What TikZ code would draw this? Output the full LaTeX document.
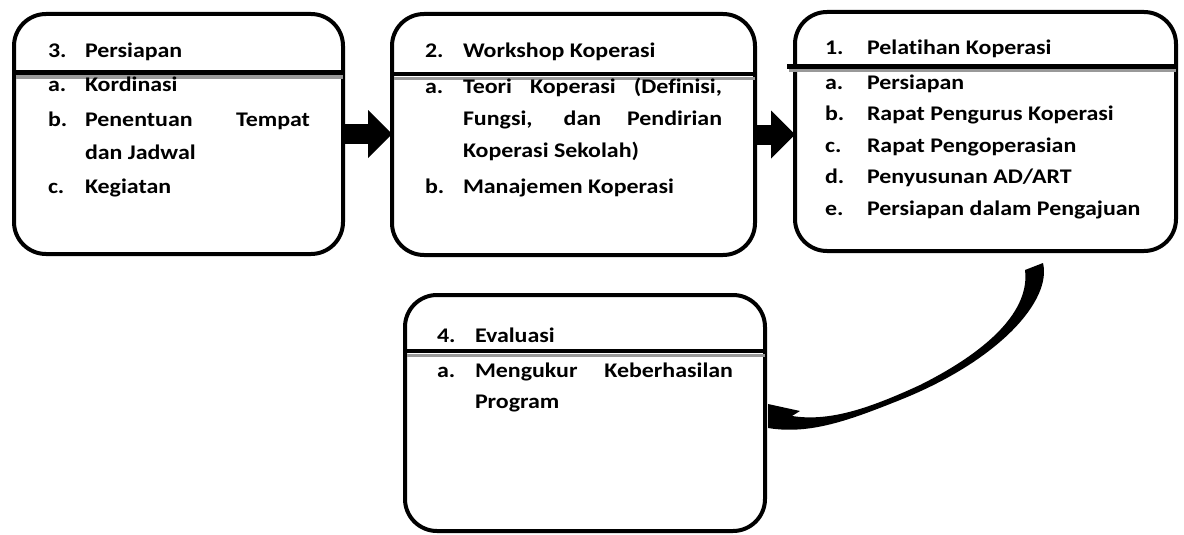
\documentclass[tikz,border=0pt]{standalone}
\usepackage{fontspec}
\newfontfamily\cfont{Carlito}[FakeStretch=1.15,Ligatures={NoCommon}]
\usetikzlibrary{arrows.meta}
\begin{document}
\begin{tikzpicture}[x=1pt,y=-1pt,
  box/.style={draw, line width=4pt, rounded corners=32pt, inner sep=0pt, outer sep=0pt, rectangle},
  hdr/.style={line width=4.5pt},
  shd/.style={line width=3.5pt, draw=black!40},
  txt/.style={anchor=base west, inner sep=0pt, outer sep=0pt, font=\cfont\bfseries\fontsize{20.8}{24}\selectfont},
  blk/.style={line width=20pt, -{Triangle[width=48pt,length=24pt,line width=0pt]}}]
\useasboundingbox (0,0) rectangle (1184,535);

% boxes
\node[box, minimum width=329pt, minimum height=240pt] (A) at (178.5,134) {};
\node[box, minimum width=363pt, minimum height=241pt] (B) at (573.5,134.5) {};
\node[box, minimum width=381pt, minimum height=239pt] (C) at (985.5,131.5) {};
\node[box, minimum width=360pt, minimum height=236pt] (D) at (585,413) {};

% header rules
\draw[shd] (16,77) -- (343,77);
\draw[hdr] (14,72.5) -- (343,72.5);
\draw[shd] (394,78.5) -- (755,78.5);
\draw[hdr] (392,74) -- (755,74);
\draw[shd] (789,70.5) -- (1176,70.5);
\draw[hdr] (787,66.5) -- (1176,66.5);
\draw[shd] (407,355.5) -- (765,355.5);
\draw[hdr] (405,351) -- (765,351);

% box A text
\node[txt] (a0n) at (48,58) {3.};
\node[txt] (a0t) at (85,58) {Persiapan};
\node[txt] (a1n) at (48,92) {a.};
\node[txt] (a1t) at (85,92) {Kordinasi};
\node[txt] (a2n) at (48,126) {b.};
\node[txt] (a2t) at (85,126) {\makebox[225pt][s]{Penentuan Tempat}};
\node[txt] (a2u) at (85,159) {dan Jadwal};
\node[txt] (a3n) at (48,193) {c.};
\node[txt] (a3t) at (85,193) {Kegiatan};

% box B text
\node[txt] (b0n) at (425,58) {2.};
\node[txt] (b0t) at (463,58) {Workshop Koperasi};
\node[txt] (b1n) at (425,94) {a.};
\node[txt] (b1t) at (463,94) {\makebox[259pt][s]{Teori Koperasi (Definisi,}};
\node[txt] (b1u) at (463,125) {\makebox[259pt][s]{Fungsi, dan Pendirian}};
\node[txt] (b1v) at (463,157) {Koperasi Sekolah)};
\node[txt] (b2n) at (425,193) {b.};
\node[txt] (b2t) at (463,193) {Manajemen Koperasi};

% box C text
\node[txt] (c0n) at (825,55) {1.};
\node[txt] (c0t) at (867,55) {Pelatihan Koperasi};
\node[txt] (c1n) at (825,90) {a.};
\node[txt] (c1t) at (867,90) {Persiapan};
\node[txt] (c2n) at (825,121) {b.};
\node[txt] (c2t) at (867,121) {Rapat Pengurus Koperasi};
\node[txt] (c3n) at (825,152) {c.};
\node[txt] (c3t) at (867,152) {Rapat Pengoperasian};
\node[txt] (c4n) at (825,183) {d.};
\node[txt] (c4t) at (867,183) {Penyusunan AD/ART};
\node[txt] (c5n) at (825,215) {e.};
\node[txt] (c5t) at (867,215) {Persiapan dalam Pengajuan};

% box D text
\node[txt] (d0n) at (437,342) {4.};
\node[txt] (d0t) at (475,342) {Evaluasi};
\node[txt] (d1n) at (437,377) {a.};
\node[txt] (d1t) at (475,377) {\makebox[258pt][s]{Mengukur Keberhasilan}};
\node[txt] (d1u) at (475,408) {Program};

% block arrows
\draw[blk] (A.east) -- (A.east -| B.west);
\draw[blk] (B.east) -- (B.east -| C.west);

% curved arrow from C to D
\coordinate (ctail) at (1043,263);
\coordinate (chead) at (768,404);
\fill (ctail) .. controls (1052,300) and (1000,360) .. (900,400)
  .. controls (850,420) and (810,435) .. (768,428)
  -- (chead) -- (800,411) -- (792,416)
  .. controls (830,422) and (870,408) .. (920,385)
  .. controls (990,350) and (1030,310) .. (1025,270) -- cycle;
\end{tikzpicture}
\end{document}
